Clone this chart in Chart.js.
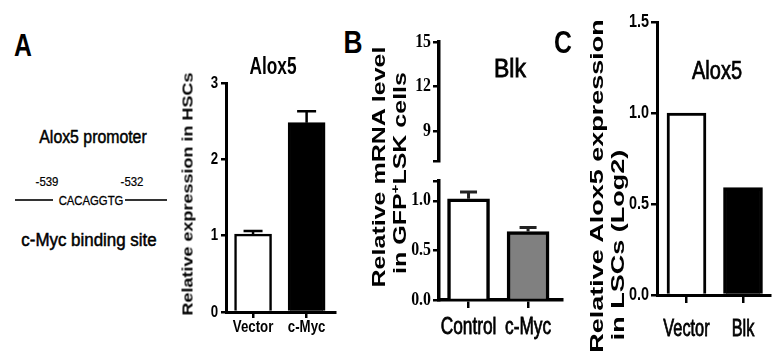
<!DOCTYPE html>
<html>
<head>
<meta charset="utf-8">
<script src="https://cdn.jsdelivr.net/npm/chart.js@4.4.1/dist/chart.umd.min.js"></script>
<style>
  body { margin: 0; background: #fff; width: 784px; height: 353px; overflow: hidden; position: relative;
         font-family: 'Liberation Sans', Arial, sans-serif; color: #000; }
  canvas { position: absolute; }
  .t { position: absolute; white-space: nowrap; line-height: 1; transform-origin: center; }
  .seg { position: absolute; height: 2px; background: #333; }
</style>
</head>
<body>

<canvas id="alox5Chart" width="190" height="290" style="left:160px;top:60px"></canvas>
<canvas id="blkTop" width="175" height="140" style="left:400px;top:30px"></canvas>
<canvas id="blkChart" width="175" height="175" style="left:400px;top:170px"></canvas>
<canvas id="lscChart" width="184" height="345" style="left:600px;top:5px"></canvas>

<div id="labels"></div>

<script>
// panel A - Alox5 in HSCs
const hscLabels = ['Vector', 'c-Myc'];
const hscValues = [1.02, 2.48];
const hscErrors = [0.04, 0.15];
const hscTicks = [0, 1, 2, 3];
const hscTickLabels = ['0', '1', '2', '3'];

// panel B - Blk, broken y axis
const blkLabels = ['Control', 'c-Myc'];
const blkValues = [1.02, 0.69];
const blkErrors = [0.07, 0.04];
const blkLowTicks = [0, 0.5, 1.0, 1.2];
const blkLowTickLabels = ['0.0', '0.5', '1.0', ''];
const blkHighTicks = [7, 9, 12, 15];
const blkHighTickLabels = ['', '9', '12', '15'];

// panel C - Alox5 in LSCs
const lscLabels = ['Vector', 'Blk'];
const lscValues = [1.0, 0.59];
const lscTicks = [0, 0.5, 1.0, 1.5];
const lscTickLabels = ['0.0', '0.5', '1.0', '1.5'];

const sans = "'Liberation Sans', Arial, sans-serif";
const serif = "'Liberation Serif', 'Times New Roman', serif";

const errorBars = {
  id: 'errorBars',
  afterDatasetsDraw(chart, args, opts) {
    const ds = chart.data.datasets[0];
    if (!ds || !ds.errors) return;
    const meta = chart.getDatasetMeta(0);
    const y = chart.scales.y;
    const ctx = chart.ctx;
    ctx.save();
    ctx.strokeStyle = opts.color || '#000';
    ctx.lineWidth = opts.width || 2.5;
    meta.data.forEach((bar, i) => {
      const top = y.getPixelForValue(ds.data[i].y + ds.errors[i]);
      ctx.beginPath();
      ctx.moveTo(bar.x, bar.y);
      ctx.lineTo(bar.x, top);
      ctx.moveTo(bar.x - opts.cap / 2, top);
      ctx.lineTo(bar.x + opts.cap / 2, top);
      ctx.stroke();
    });
    ctx.restore();
  }
};

// the figure's lettering is condensed, so tick labels are drawn squeezed
const tickText = {
  id: 'tickText',
  afterDraw(chart, args, opts) {
    const ctx = chart.ctx;
    ['x', 'y'].forEach(k => {
      const o = opts[k];
      if (!o) return;
      const scale = chart.scales[k];
      ctx.save();
      ctx.fillStyle = '#000';
      ctx.strokeStyle = '#000';
      ctx.font = o.font;
      ctx.textBaseline = 'middle';
      ctx.textAlign = k === 'x' ? 'center' : 'right';
      scale.ticks.forEach((t, i) => {
        const text = o.labels[i];
        if (!text) return;
        const p = scale.getPixelForValue(t.value);
        ctx.save();
        if (k === 'x') ctx.translate(p, scale.top + o.gap);
        else ctx.translate(scale.right - o.gap, p);
        ctx.scale(o.sx, 1);
        ctx.fillText(text, 0, 0);
        if (o.stroke) { ctx.lineWidth = o.stroke; ctx.strokeText(text, 0, 0); }
        ctx.restore();
      });
      ctx.restore();
    });
  }
};

function barPanel(id, o) {
  const cats = o.labels;
  const datasets = o.values ? [{
    data: o.values.map((v, i) => ({ x: i, y: v })),
    errors: o.errors,
    backgroundColor: o.colors,
    borderColor: '#000',
    borderWidth: o.barBorder,
    barThickness: o.barWidth
  }] : [];

  return new Chart(document.getElementById(id), {
    type: 'bar',
    data: { datasets: datasets },
    options: {
      responsive: false,
      animation: false,
      events: [],
      layout: { padding: o.pad },
      plugins: {
        legend: { display: false },
        tooltip: { enabled: false },
        errorBars: o.err || { cap: 0 },
        tickText: {
          x: o.showX === false ? null : Object.assign({ labels: cats }, o.xText),
          y: Object.assign({ labels: o.yTickLabels }, o.yText)
        }
      },
      scales: {
        x: {
          type: 'linear',
          min: o.xMin,
          max: o.xMax,
          offset: false,
          display: o.showX !== false,
          afterBuildTicks: s => { s.ticks = cats.map((c, i) => ({ value: i })); },
          afterFit: s => { s.height = o.xHeight; },
          border: { color: '#000', width: o.axisW },
          grid: { offset: false, drawOnChartArea: false, tickLength: o.xTick, color: '#000', lineWidth: 2.5 },
          ticks: { display: false }
        },
        y: {
          min: o.yTicks[0],
          max: o.yTicks[o.yTicks.length - 1],
          afterBuildTicks: s => { s.ticks = o.yTicks.map(v => ({ value: v })); },
          afterFit: s => { s.width = o.yWidth; },
          border: { color: '#000', width: o.axisW },
          grid: { drawOnChartArea: false, tickLength: o.yTick, color: '#000', lineWidth: 2.5 },
          ticks: { display: false }
        }
      }
    },
    plugins: [errorBars, tickText]
  });
}

barPanel('alox5Chart', {
  labels: hscLabels, values: hscValues, errors: hscErrors,
  colors: ['#fff', '#000'], barBorder: 2.5, barWidth: 37,
  yTicks: hscTicks, yTickLabels: hscTickLabels,
  xMin: -0.505, xMax: 1.53,
  pad: { top: 23, right: 15, left: 0, bottom: 0 },
  yWidth: 66, xHeight: 38, axisW: 3, xTick: 6, yTick: 5,
  xText: { font: 'bold 17px ' + sans, sx: 0.78, gap: 15 },
  yText: { font: 'bold 17px ' + sans, sx: 0.78, gap: 8 },
  err: { cap: 19, width: 2.5 }
});

barPanel('blkTop', {
  labels: blkLabels,
  yTicks: blkHighTicks, yTickLabels: blkHighTickLabels,
  xMin: -0.496, xMax: 1.57, showX: false,
  pad: { top: 12, right: 13, left: 0, bottom: 9 },
  yWidth: 39, xHeight: 0, axisW: 3.5, xTick: 8, yTick: 6,
  yText: { font: 'bold 18px ' + serif, sx: 0.88, gap: 8 }
});

barPanel('blkChart', {
  labels: blkLabels, values: blkValues, errors: blkErrors,
  colors: ['#fff', '#808080'], barBorder: 3.5, barWidth: 42,
  yTicks: blkLowTicks, yTickLabels: blkLowTickLabels,
  xMin: -0.496, xMax: 1.57,
  pad: { top: 11, right: 13, left: 0, bottom: 0 },
  yWidth: 39, xHeight: 45, axisW: 3.5, xTick: 8, yTick: 6,
  xText: { font: '24px ' + sans, sx: 0.72, gap: 27, stroke: 0.8 },
  yText: { font: 'bold 18px ' + serif, sx: 0.88, gap: 8 },
  err: { cap: 17, width: 3, color: '#222' }
});

barPanel('lscChart', {
  labels: lscLabels, values: lscValues,
  colors: ['#fff', '#000'], barBorder: 3, barWidth: 39,
  yTicks: lscTicks, yTickLabels: lscTickLabels,
  xMin: -0.522, xMax: 1.478,
  pad: { top: 17, right: 14, left: 0, bottom: 0 },
  yWidth: 57, xHeight: 55, axisW: 3, xTick: 8, yTick: 6,
  xText: { font: '24px ' + sans, sx: 0.68, gap: 34, stroke: 0.8 },
  yText: { font: 'bold 18px ' + sans, sx: 0.8, gap: 8 }
});

// text around the plots
const texts = [
  { s: 'A', x: 23, y: 45, size: 31, bold: true, sx: 0.8 },
  { s: 'B', x: 353, y: 42, size: 31, bold: true, sx: 0.85 },
  { s: 'C', x: 563, y: 42, size: 31, bold: true, sx: 0.8 },
  { s: 'Alox5 promoter', x: 93, y: 137, size: 18, sx: 0.88, stroke: 0.5 },
  { s: '-539', x: 47, y: 182, size: 12, sx: 0.95, stroke: 0.2 },
  { s: '-532', x: 132, y: 182, size: 12, sx: 0.95, stroke: 0.2 },
  { s: 'CACAGGTG', x: 91, y: 200, size: 13, sx: 0.87, stroke: 0.3 },
  { s: 'c-Myc binding site', x: 89, y: 240, size: 18, sx: 0.94, stroke: 0.5 },
  { s: 'Alox5', x: 273, y: 66, size: 24, bold: true, sx: 0.72 },
  { s: 'Blk', x: 510, y: 68, size: 25, sx: 0.92, stroke: 0.8 },
  { s: 'Alox5', x: 717, y: 70, size: 25, sx: 0.8, stroke: 0.7 },
  { s: 'Relative expression in HSCs', x: 187, y: 194, size: 18, bold: true, rot: true, sy: 0.85 },
  { s: 'Relative mRNA level', x: 379, y: 167, size: 25, bold: true, rot: true, sy: 0.72 },
  { s: 'in GFP<sup style="font-size:60%">+</sup>LSK cells', x: 399, y: 173, size: 25, bold: true, rot: true, sy: 0.72 },
  { s: 'Relative Alox5 expression', x: 597, y: 186, size: 27, bold: true, rot: true, sy: 0.7 },
  { s: 'in LSCs (Log2)', x: 618, y: 245, size: 27, bold: true, rot: true, sy: 0.7 }
];

const holder = document.getElementById('labels');
texts.forEach(t => {
  const d = document.createElement('div');
  d.className = 't';
  d.innerHTML = t.s;
  d.style.fontSize = t.size + 'px';
  d.style.fontWeight = t.bold ? 'bold' : 'normal';
  if (t.stroke) d.style.webkitTextStroke = t.stroke + 'px #000';
  d.style.left = t.x + 'px';
  d.style.top = t.y + 'px';
  d.style.transform = t.rot
    ? 'translate(-50%,-50%) rotate(-90deg) scaleY(' + t.sy + ')'
    : 'translate(-50%,-50%) scaleX(' + t.sx + ')';
  holder.appendChild(d);
});

// promoter line pieces
[[15, 53], [125, 167]].forEach(p => {
  const s = document.createElement('div');
  s.className = 'seg';
  s.style.left = p[0] + 'px';
  s.style.width = (p[1] - p[0]) + 'px';
  s.style.top = '199px';
  holder.appendChild(s);
});
</script>
</body>
</html>
